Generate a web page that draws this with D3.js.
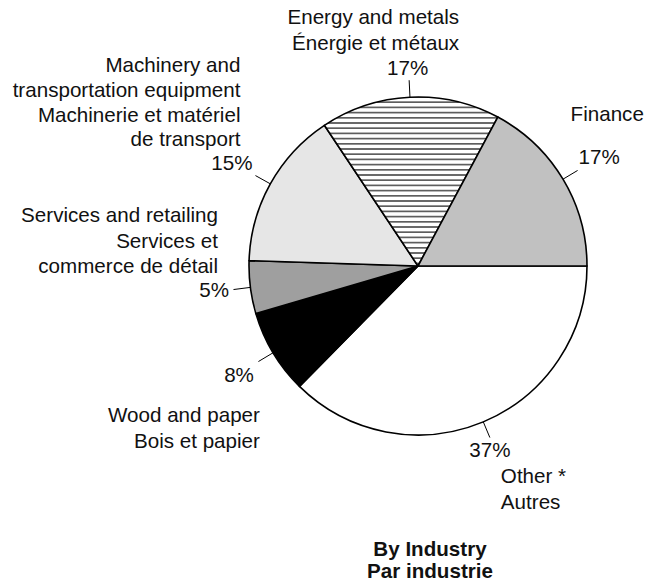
<!DOCTYPE html>
<html>
<head>
<meta charset="utf-8">
<script src="https://cdn.jsdelivr.net/npm/d3@7"></script>
<style>
  html, body { margin: 0; padding: 0; background: #fff; }
  svg text { font-family: "Liberation Sans", Arial, Helvetica, sans-serif; fill: #111; }
</style>
</head>
<body>
<svg id="chart" width="646" height="582"></svg>
<script>
// data
var categories = ["Other", "Wood", "Services", "Machinery", "Energy", "Finance"];
var shares = [37, 8, 5, 15, 17, 17];
var nameLines = [
  ["Other *", "Autres"],
  ["Wood and paper", "Bois et papier"],
  ["Services and retailing", "Services et", "commerce de détail"],
  ["Machinery and", "transportation equipment", "Machinerie et matériel", "de transport"],
  ["Energy and metals", "Énergie et métaux"],
  ["Finance"]
];
var fills = ["#ffffff", "#000000", "#9f9f9f", "#e6e6e6", "url(#hatch)", "#c1c1c1"];
var titleLines = ["By Industry", "Par industrie"];

// label placement relative to the end of each leader tick
// pct: [anchor, dx, dy]   name: [anchor, dx, first dy, line step]
var pctPos = [
  ["middle", 0, 19.5],
  ["end", -4.5, 20],
  ["end", -4.5, 7.5],
  ["end", -3, -6],
  ["middle", -1.5, -5],
  ["start", 1, -6]
];
var namePos = [
  ["start", 11, 45.5, 26],
  ["end", 1.5, 60, 26],
  ["end", -15.5, -67.5, 25.5],
  ["end", -15, -103.5, 24.8],
  ["end", 50, -56, 26],
  ["start", -7, -49, 26]
];

var cx = 418, cy = 266, r = 169, tick = 17;
var fontSize = 20.6;

var svg = d3.select("#chart");

var defs = svg.append("defs");
var pat = defs.append("pattern")
  .attr("id", "hatch")
  .attr("patternUnits", "userSpaceOnUse")
  .attr("width", 10)
  .attr("height", 5.2);
pat.append("rect").attr("width", 10).attr("height", 5.2).attr("fill", "#fff");
pat.append("line")
  .attr("x1", 0).attr("x2", 10)
  .attr("y1", 2.6).attr("y2", 2.6)
  .attr("stroke", "#000").attr("stroke-width", 1.1);

var pie = d3.pie()
  .sort(null)
  .value(function(d) { return d; })
  .startAngle(Math.PI / 2)
  .endAngle(Math.PI / 2 + 2 * Math.PI);

var arcs = pie(shares);
var arc = d3.arc().innerRadius(0).outerRadius(r);

var g = svg.append("g").attr("transform", "translate(" + cx + "," + cy + ")");

g.selectAll("path.slice")
  .data(arcs)
  .enter()
  .append("path")
  .attr("class", "slice")
  .attr("d", arc)
  .attr("fill", function(d, i) { return fills[i]; })
  .attr("stroke", "#000")
  .attr("stroke-width", 1.6)
  .attr("stroke-linejoin", "round");

function polar(a, rad) {
  return [Math.sin(a) * rad, -Math.cos(a) * rad];
}

var labels = g.selectAll("g.label")
  .data(arcs)
  .enter()
  .append("g")
  .attr("class", "label");

labels.each(function(d, i) {
  var el = d3.select(this);
  var mid = (d.startAngle + d.endAngle) / 2;
  var p0 = polar(mid, r), p1 = polar(mid, r + tick);

  el.append("line")
    .attr("x1", p0[0]).attr("y1", p0[1])
    .attr("x2", p1[0]).attr("y2", p1[1])
    .attr("stroke", "#000")
    .attr("stroke-width", 1);

  var pp = pctPos[i];
  el.append("text")
    .attr("x", p1[0] + pp[1])
    .attr("y", p1[1] + pp[2])
    .attr("text-anchor", pp[0])
    .attr("font-size", fontSize)
    .text(d.data + "%");

  var np = namePos[i];
  el.selectAll("text.name")
    .data(nameLines[i])
    .enter()
    .append("text")
    .attr("class", "name")
    .attr("x", p1[0] + np[1])
    .attr("y", function(t, k) { return p1[1] + np[2] + k * np[3]; })
    .attr("text-anchor", np[0])
    .attr("font-size", fontSize)
    .text(function(t) { return t; });
});

svg.selectAll("text.title")
  .data(titleLines)
  .enter()
  .append("text")
  .attr("class", "title")
  .attr("x", 430)
  .attr("y", function(t, k) { return 555.5 + k * 22; })
  .attr("text-anchor", "middle")
  .attr("font-size", fontSize)
  .attr("font-weight", "bold")
  .text(function(t) { return t; });
</script>
</body>
</html>
